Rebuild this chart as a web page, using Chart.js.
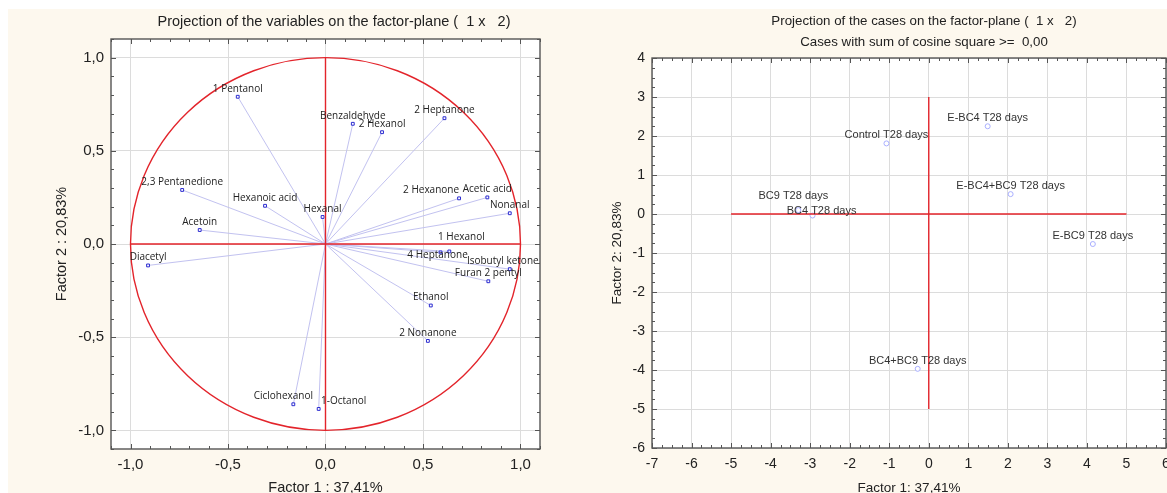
<!DOCTYPE html>
<html>
<head>
<meta charset="utf-8">
<script src="https://cdn.jsdelivr.net/npm/chart.js@4.4.0/dist/chart.umd.min.js"></script>
<style>
  html, body { margin: 0; padding: 0; background: #fff; overflow: hidden; }
  body { width: 1167px; height: 493px; position: relative; }
  #panel { position: absolute; left: 8px; top: 9px; right: 0; bottom: 0; background: #fdf8ee; }
  .box { position: absolute; top: 0; height: 500px; }
  #leftBox { left: 0; width: 583px; }
  #rightBox { left: 583px; width: 600px; }
</style>
</head>
<body>
<div id="panel"></div>
<div class="box" id="leftBox"><canvas id="varsChart"></canvas></div>
<div class="box" id="rightBox"><canvas id="casesChart"></canvas></div>

<script>
// ---- data: projection of the variables ----
const varNames = ['1 Pentanol', 'Benzaldehyde', '2 Hexanol', '2 Heptanone', '2,3 Pentanedione',
  'Hexanoic acid', 'Hexanal', 'Acetoin', '2 Hexanone', 'Acetic acid', 'Nonanal', '1 Hexanol',
  'Diacetyl', '4 Heptanone', 'Isobutyl ketone', 'Furan 2 pentyl', 'Ethanol', '2 Nonanone',
  'Ciclohexanol', '1-Octanol'];
const varFactor1 = [-0.45, 0.14, 0.29, 0.61, -0.735, -0.31, -0.015, -0.645, 0.685, 0.83, 0.945, 0.635,
  -0.91, 0.59, 0.945, 0.835, 0.54, 0.525, -0.165, -0.035];
const varFactor2 = [0.79, 0.645, 0.60, 0.675, 0.29, 0.205, 0.145, 0.075, 0.245, 0.25, 0.165, -0.04,
  -0.115, -0.045, -0.135, -0.2, -0.33, -0.52, -0.86, -0.885];
const varTicks = [-1, -0.5, 0, 0.5, 1];

// ---- data: projection of the cases ----
const caseNames = ['E-BC4 T28 days', 'Control T28 days', 'E-BC4+BC9 T28 days', 'BC9 T28 days',
  'BC4 T28 days', 'E-BC9 T28 days', 'BC4+BC9 T28 days'];
const caseFactor1 = [1.49, -1.07, 2.07, -3.3, -2.94, 4.15, -0.28];
const caseFactor2 = [2.25, 1.81, 0.51, 0.1, -0.04, -0.77, -3.97];
const caseXTicks = [-7, -6, -5, -4, -3, -2, -1, 0, 1, 2, 3, 4, 5, 6];
const caseYTicks = [-6, -5, -4, -3, -2, -1, 0, 1, 2, 3, 4];

// label nudges where the original moved a label off its point
const labelNudge = {
  '2 Hexanone': [-28, 0],
  '1 Hexanol': [12, -6],
  '4 Heptanone': [-3, 11],
  'Isobutyl ketone': [-7, 0],
  'Ciclohexanol': [-10, 0],
  '1-Octanol': [25, 0],
  'BC9 T28 days': [-5, -6],
  'BC4 T28 days': [9, 3]
};

const RED = '#e3242b';
const TXT = '#222';
const SANS = "'Liberation Sans', Arial, sans-serif";

function comma(v) {
  return v.toFixed(1).replace('.', ',');
}

// white plot area, frame, inner tick marks, point labels, titles
const framePlugin = {
  id: 'frame',
  beforeDraw(chart) {
    const a = chart.chartArea, ctx = chart.ctx;
    ctx.save();
    ctx.fillStyle = '#fff';
    ctx.fillRect(a.left, a.top, a.right - a.left, a.bottom - a.top);
    ctx.restore();
  },
  afterDatasetsDraw(chart, args, opts) {
    const ctx = chart.ctx, a = chart.chartArea;
    const xs = chart.scales.x, ys = chart.scales.y;
    ctx.save();

    // red reference lines
    ctx.strokeStyle = RED;
    ctx.lineWidth = 1.4;
    const r = opts.refLines;
    ctx.beginPath();
    ctx.moveTo(xs.getPixelForValue(r.h[0]), ys.getPixelForValue(0));
    ctx.lineTo(xs.getPixelForValue(r.h[1]), ys.getPixelForValue(0));
    ctx.moveTo(xs.getPixelForValue(0), ys.getPixelForValue(r.v[0]));
    ctx.lineTo(xs.getPixelForValue(0), ys.getPixelForValue(r.v[1]));
    ctx.stroke();
    if (opts.unitCircle) {
      const cx = xs.getPixelForValue(0), cy = ys.getPixelForValue(0);
      ctx.beginPath();
      ctx.ellipse(cx, cy, xs.getPixelForValue(1) - cx, cy - ys.getPixelForValue(1), 0, 0, Math.PI * 2);
      ctx.stroke();
    }

    // point labels
    ctx.fillStyle = opts.labelColor;
    ctx.font = opts.labelFont;
    ctx.textAlign = 'center';
    ctx.textBaseline = 'middle';
    const meta = chart.getDatasetMeta(opts.pointDataset);
    opts.labels.forEach((name, i) => {
      const el = meta.data[i];
      const n = labelNudge[name] || [0, 0];
      ctx.fillText(name, el.x + n[0], el.y - 8 + n[1]);
    });

    // frame
    ctx.strokeStyle = '#555';
    ctx.lineWidth = 1.4;
    ctx.strokeRect(a.left, a.top, a.right - a.left, a.bottom - a.top);

    // inner tick marks on all four sides
    ctx.lineWidth = 1;
    ctx.beginPath();
    const step = opts.minorStep;
    for (let v = xs.min; v <= xs.max + 1e-9; v += step) {
      const px = Math.round(xs.getPixelForValue(v)) + 0.5;
      const len = Math.abs(v / opts.majorStep - Math.round(v / opts.majorStep)) < 1e-6 ? 5 : 3;
      ctx.moveTo(px, a.bottom); ctx.lineTo(px, a.bottom - len);
      ctx.moveTo(px, a.top); ctx.lineTo(px, a.top + len);
    }
    for (let v = ys.min; v <= ys.max + 1e-9; v += step) {
      const py = Math.round(ys.getPixelForValue(v)) + 0.5;
      const len = Math.abs(v / opts.majorStep - Math.round(v / opts.majorStep)) < 1e-6 ? 5 : 3;
      ctx.moveTo(a.left, py); ctx.lineTo(a.left + len, py);
      ctx.moveTo(a.right, py); ctx.lineTo(a.right - len, py);
    }
    ctx.stroke();

    // titles
    ctx.fillStyle = TXT;
    ctx.font = opts.titleSize + 'px ' + SANS;
    opts.title.forEach((line, i) => {
      ctx.fillText(line, opts.titleX, opts.titleY[i]);
    });
    ctx.restore();
  }
};

function axisTitle(text, size, pad) {
  return { display: true, text: text, color: TXT, font: { family: SANS, size: size }, padding: pad };
}

// ---- left chart: variables ----
const vectorSets = varNames.map((name, i) => ({
  type: 'line',
  data: [{ x: 0, y: 0 }, { x: varFactor1[i], y: varFactor2[i] }],
  borderColor: '#c2c2f0',
  borderWidth: 1,
  pointRadius: 0
}));

new Chart(document.getElementById('varsChart'), {
  type: 'scatter',
  data: {
    datasets: [{
      data: varNames.map((n, i) => ({ x: varFactor1[i], y: varFactor2[i] })),
      pointStyle: 'rect',
      pointRadius: 2,
      borderColor: '#2b2bd0',
      backgroundColor: '#fff',
      borderWidth: 1
    }].concat(vectorSets)
  },
  options: {
    responsive: true,
    maintainAspectRatio: false,
    animation: false,
    layout: { padding: { top: 39, right: 43, left: 0, bottom: 0 } },
    plugins: {
      legend: { display: false },
      tooltip: { enabled: false },
      frame: {
        refLines: { h: [-1, 1], v: [-1, 1] },
        unitCircle: true,
        pointDataset: 0,
        labels: varNames,
        labelColor: '#222',
        labelFont: "10px 'Open Sans', sans-serif",
        minorStep: 0.1,
        majorStep: 0.5,
        title: ['Projection of the variables on the factor-plane (  1 x   2)'],
        titleSize: 14.5,
        titleX: 334,
        titleY: [22]
      }
    },
    scales: {
      x: {
        type: 'linear', min: -1.1, max: 1.1,
        afterBuildTicks: s => { s.ticks = varTicks.map(v => ({ value: v })); },
        afterFit: s => { s.height = 51; },
        ticks: { callback: v => comma(v), color: TXT, font: { family: SANS, size: 15 }, padding: 7, maxRotation: 0, autoSkip: false },
        grid: { color: '#dcdcdc', drawTicks: false },
        border: { display: false },
        title: axisTitle('Factor 1 : 37,41%', 14.5, { top: 0, bottom: 3 })
      },
      y: {
        type: 'linear', min: -1.1, max: 1.1,
        afterBuildTicks: s => { s.ticks = varTicks.map(v => ({ value: v })); },
        afterFit: s => { s.width = 111; },
        ticks: { callback: v => comma(v), color: TXT, font: { family: SANS, size: 15 }, padding: 7, autoSkip: false },
        grid: { color: '#dcdcdc', drawTicks: false },
        border: { display: false },
        title: axisTitle('Factor 2 : 20,83%', 14.5, { top: 53, bottom: 0 })
      }
    }
  },
  plugins: [framePlugin]
});

// ---- right chart: cases ----
new Chart(document.getElementById('casesChart'), {
  type: 'scatter',
  data: {
    datasets: [{
      data: caseNames.map((n, i) => ({ x: caseFactor1[i], y: caseFactor2[i] })),
      pointStyle: 'circle',
      pointRadius: 2.5,
      borderColor: '#aab0ff',
      backgroundColor: '#fff',
      borderWidth: 1
    }]
  },
  options: {
    responsive: true,
    maintainAspectRatio: false,
    animation: false,
    layout: { padding: { top: 58, right: 17, left: 0, bottom: 0 } },
    plugins: {
      legend: { display: false },
      tooltip: { enabled: false },
      frame: {
        refLines: { h: [-5, 5], v: [-5, 3] },
        unitCircle: false,
        pointDataset: 0,
        labels: caseNames,
        labelColor: '#333',
        labelFont: '11px ' + SANS,
        minorStep: 0.25,
        majorStep: 1,
        title: ['Projection of the cases on the factor-plane (  1 x   2)', 'Cases with sum of cosine square >=  0,00'],
        titleSize: 13.3,
        titleX: 341,
        titleY: [21, 42]
      }
    },
    scales: {
      x: {
        type: 'linear', min: -7, max: 6,
        afterBuildTicks: s => { s.ticks = caseXTicks.map(v => ({ value: v })); },
        afterFit: s => { s.height = 52; },
        ticks: { color: TXT, font: { family: SANS, size: 14 }, padding: 8, maxRotation: 0, autoSkip: false },
        grid: { color: '#dcdcdc', drawTicks: false },
        border: { display: false },
        title: axisTitle('Factor 1: 37,41%', 13.5, { top: 0, bottom: 4 })
      },
      y: {
        type: 'linear', min: -6, max: 4,
        afterBuildTicks: s => { s.ticks = caseYTicks.map(v => ({ value: v })); },
        afterFit: s => { s.width = 69; },
        ticks: { color: TXT, font: { family: SANS, size: 14 }, padding: 7, autoSkip: false },
        grid: { color: '#dcdcdc', drawTicks: false },
        border: { display: false },
        title: axisTitle('Factor 2: 20,83%', 13.5, { top: 26, bottom: 0 })
      }
    }
  },
  plugins: [framePlugin]
});
</script>
</body>
</html>
